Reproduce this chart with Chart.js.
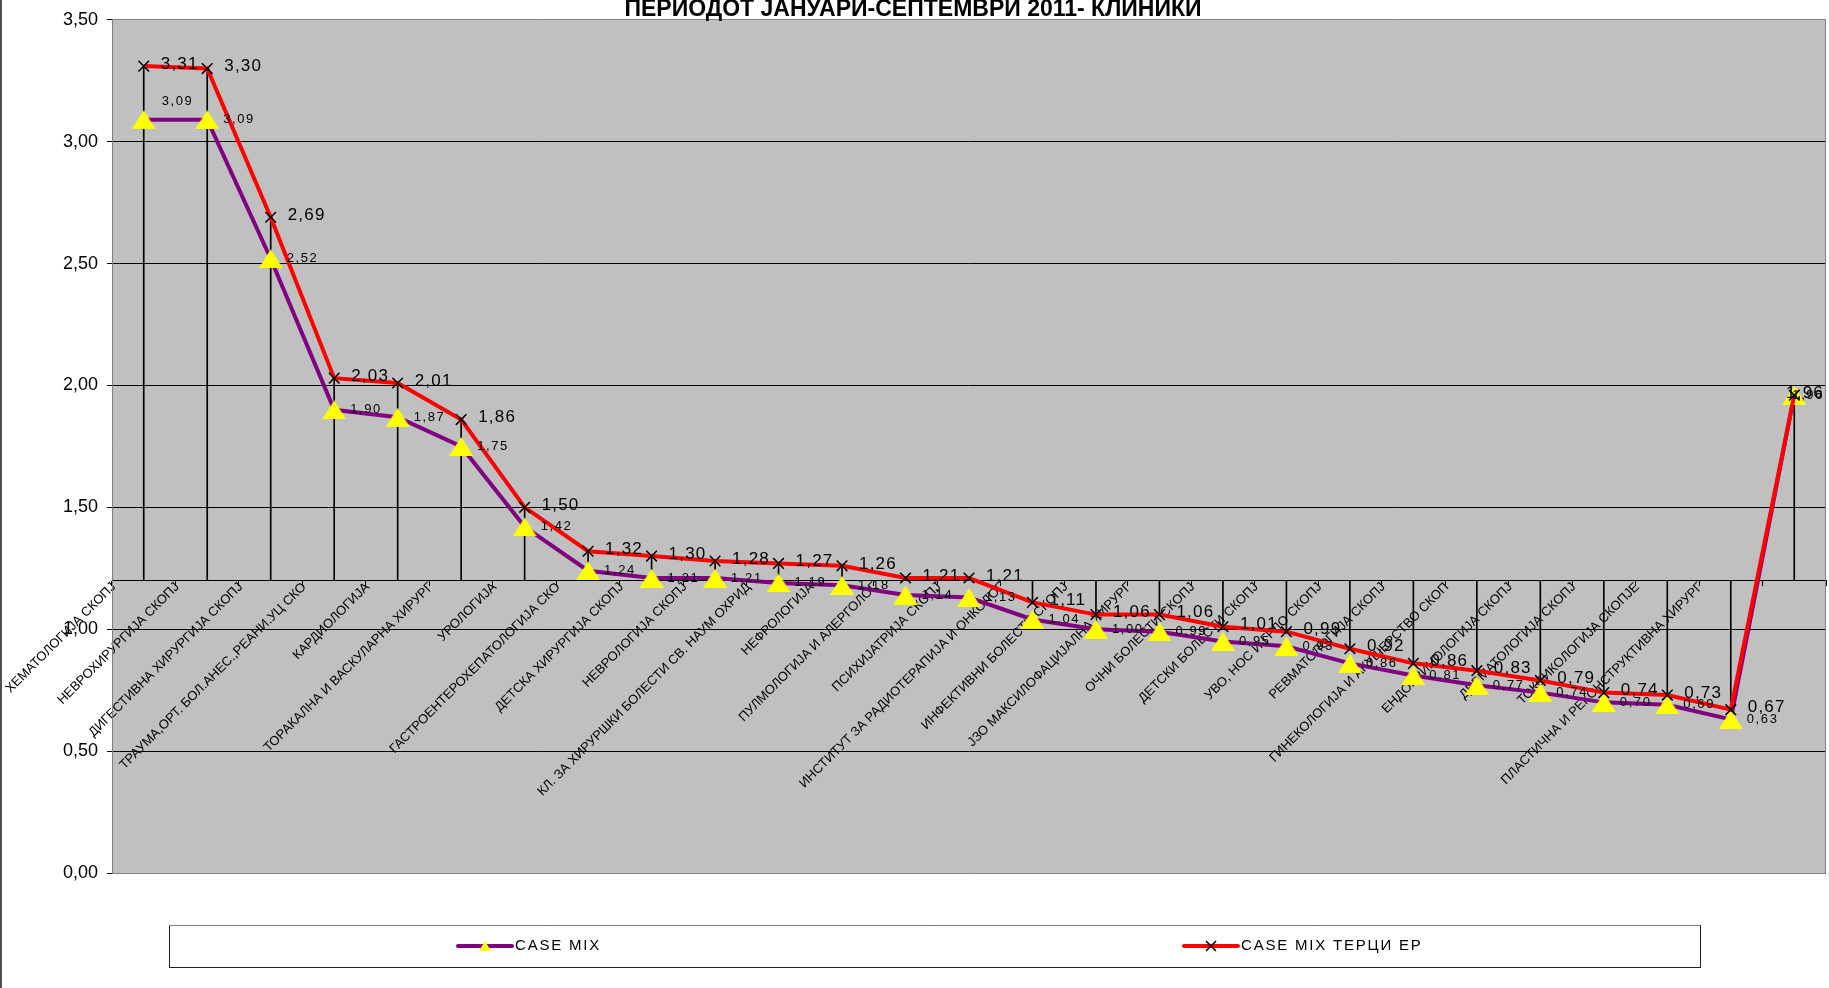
<!DOCTYPE html>
<html>
<head>
<meta charset="utf-8">
<title>Case mix - клиники</title>
<script src="https://cdn.jsdelivr.net/npm/chart.js@4.4.1/dist/chart.umd.min.js"></script>
<style>
  html, body { margin: 0; padding: 0; background: #fff; overflow: hidden; }
  #wrap { position: relative; width: 1829px; height: 988px; }
</style>
</head>
<body>
<div id="wrap"><canvas id="chart"></canvas></div>
<script>
var FONT = '"Liberation Sans", Arial, sans-serif';

var chartTitle = 'ПЕРИОДОТ ЈАНУАРИ-СЕПТЕМВРИ 2011- КЛИНИКИ';
var seriesNames = ['CASE MIX', 'CASE MIX ТЕРЦИ ЕР'];

var clinics = [
  'ХЕМАТОЛОГИЈА СКОПЈ',
  'НЕВРОХИРУРГИЈА СКОПЈ',
  'ДИГЕСТИВНА ХИРУРГИЈА СКОПЈ',
  'ТРАУМА,ОРТ. БОЛ.АНЕС.,РЕАНИ.УЦ СКО',
  'КАРДИОЛОГИЈА',
  'ТОРАКАЛНА И ВАСКУЛАРНА ХИРУРГ',
  'УРОЛОГИЈА',
  'ГАСТРОЕНТЕРОХЕПАТОЛОГИЈА СКО',
  'ДЕТСКА ХИРУРГИЈА СКОПЈ',
  'НЕВРОЛОГИЈА СКОПЈ',
  'КЛ. ЗА ХИРУРШКИ БОЛЕСТИ СВ. НАУМ ОХРИД',
  'НЕФРОЛОГИЈА',
  'ПУЛМОЛОГИЈА И АЛЕРГОЛОГ',
  'ПСИХИЈАТРИЈА СКОПЈ',
  'ИНСТИТУТ ЗА РАДИОТЕРАПИЈА И ОНКОЛОГ',
  'ИНФЕКТИВНИ БОЛЕСТИ СКОПЈ',
  'ЈЗО МАКСИЛОФАЦИЈАЛНА ХИРУРГ',
  'ОЧНИ БОЛЕСТИ СКОПЈ',
  'ДЕТСКИ БОЛЕСТИ СКОПЈ',
  'УВО, НОС И ГРЛО СКОПЈ',
  'РЕВМАТОЛОГИЈА СКОПЈ',
  'ГИНЕКОЛОГИЈА И АКУШЕРСТВО СКОП',
  'ЕНДОКРИНОЛОГИЈА СКОПЈ',
  'ДЕРМАТОЛОГИЈА СКОПЈ',
  'ТОКСИКОЛОГИЈА СКОПЈЕ',
  'ПЛАСТИЧНА И РЕКОНСТРУКТИВНА ХИРУРГ',
  ''
];

var caseMix = [3.09, 3.09, 2.52, 1.90, 1.87, 1.75, 1.42, 1.24, 1.21, 1.21, 1.19, 1.18, 1.14, 1.13,
               1.04, 1.00, 0.99, 0.95, 0.93, 0.86, 0.81, 0.77, 0.74, 0.70, 0.69, 0.63, 1.96];

var caseMixTerciEr = [3.31, 3.30, 2.69, 2.03, 2.01, 1.86, 1.50, 1.32, 1.30, 1.28, 1.27, 1.26, 1.21, 1.21,
                      1.11, 1.06, 1.06, 1.01, 0.99, 0.92, 0.86, 0.83, 0.79, 0.74, 0.73, 0.67, 1.96];

// value axis: 0,00 .. 3,50, category axis crosses at 1,20
var yMin = 0;
var yMax = 3.5;
var yStep = 0.5;
var axisCross = 1.2;

function fmt(v) {
  return Number(v).toFixed(2).replace('.', ',');
}

// drop lines: from the category axis to the higher of the two points
var dropLines = clinics.map(function(c, i) {
  return [axisCross, Math.max(caseMix[i], caseMixTerciEr[i])];
});

function triangleMarker(w, h, color) {
  var c = document.createElement('canvas');
  c.width = w;
  c.height = h;
  var g = c.getContext('2d');
  g.fillStyle = color;
  g.beginPath();
  g.moveTo(w / 2, 0);
  g.lineTo(w, h);
  g.lineTo(0, h);
  g.closePath();
  g.fill();
  return c;
}

var bigTriangle = triangleMarker(24, 19, '#FFFF00');

// plot background, outer left edge and right plot border
var frame = {
  id: 'frame',
  beforeDraw: function(chart) {
    var c = chart.ctx, a = chart.chartArea;
    c.save();
    c.fillStyle = '#C0C0C0';
    c.fillRect(a.left, a.top, a.right - a.left, a.bottom - a.top);
    c.fillStyle = '#505050';
    c.fillRect(0, 0, 2, chart.height);
    c.restore();
  },
  beforeDatasetsDraw: function(chart) {
    var c = chart.ctx, a = chart.chartArea;
    c.save();
    c.strokeStyle = '#808080';
    c.lineWidth = 1;
    c.beginPath();
    c.moveTo(Math.round(a.right) - 0.5, a.top);
    c.lineTo(Math.round(a.right) - 0.5, a.bottom);
    c.stroke();
    c.restore();
  }
};

// value labels next to the points
var labelStyle = {
  0: { font: '17px ' + FONT, spacing: '1.2px', dx: 17, dy: -2 },
  1: { font: '13px ' + FONT, spacing: '1.6px', dx: 16, dy: 0, liftFirst: true }
};

var valueLabels = {
  id: 'valueLabels',
  afterDatasetsDraw: function(chart) {
    var c = chart.ctx, a = chart.chartArea;
    c.save();
    c.fillStyle = '#000';
    c.textAlign = 'left';
    c.textBaseline = 'middle';
    chart.data.datasets.forEach(function(ds, di) {
      var st = labelStyle[di];
      if (!st) return;
      c.font = st.font;
      c.letterSpacing = st.spacing;
      chart.getDatasetMeta(di).data.forEach(function(pt, i) {
        var text = fmt(ds.data[i]);
        var w = c.measureText(text).width;
        var x = pt.x + st.dx;
        var y = pt.y + st.dy;
        if (st.liftFirst && i === 0) { x += 2; y -= 18; }
        x = Math.min(x, a.right - w - 2);
        c.fillText(text, x, y);
      });
    });
    c.restore();
  }
};

// boxed legend under the plot
var boxLegend = {
  id: 'boxLegend',
  afterDraw: function(chart) {
    var c = chart.ctx;
    var box = { left: 169, top: 925, width: 1531, height: 42 };
    var items = [
      { x: 458, name: seriesNames[0], color: '#800080', marker: 'triangle' },
      { x: 1184, name: seriesNames[1], color: '#FF0000', marker: 'cross' }
    ];
    var cy = box.top + box.height / 2;
    c.save();
    c.fillStyle = '#fff';
    c.fillRect(box.left, box.top, box.width, box.height);
    c.lineWidth = 1;
    c.strokeStyle = '#202020';
    c.strokeRect(box.left + 0.5, box.top + 0.5, box.width, box.height);
    c.strokeStyle = '#808080';
    c.beginPath();
    c.moveTo(box.left, box.top + 0.5);
    c.lineTo(box.left + box.width, box.top + 0.5);
    c.stroke();

    items.forEach(function(it) {
      c.strokeStyle = it.color;
      c.lineWidth = 4;
      c.lineCap = 'round';
      c.beginPath();
      c.moveTo(it.x, cy);
      c.lineTo(it.x + 54, cy);
      c.stroke();
      var mx = it.x + 27;
      if (it.marker === 'triangle') {
        c.fillStyle = '#FFFF00';
        c.beginPath();
        c.moveTo(mx, cy - 5);
        c.lineTo(mx + 6, cy + 5);
        c.lineTo(mx - 6, cy + 5);
        c.closePath();
        c.fill();
      } else {
        c.strokeStyle = '#000';
        c.lineWidth = 1.5;
        c.lineCap = 'butt';
        c.beginPath();
        c.moveTo(mx - 5, cy - 5); c.lineTo(mx + 5, cy + 5);
        c.moveTo(mx + 5, cy - 5); c.lineTo(mx - 5, cy + 5);
        c.stroke();
      }
      c.fillStyle = '#000';
      c.font = '15px ' + FONT;
      c.letterSpacing = '1.8px';
      c.textAlign = 'left';
      c.textBaseline = 'middle';
      c.fillText(it.name, it.x + 57, cy);
    });
    c.restore();
  }
};

var chart = new Chart(document.getElementById('chart'), {
  type: 'line',
  data: {
    labels: clinics,
    datasets: [
      {
        label: seriesNames[1],
        data: caseMixTerciEr,
        order: 1,
        borderColor: '#FF0000',
        borderWidth: 4,
        tension: 0,
        pointStyle: 'crossRot',
        pointRadius: 7.5,
        pointBorderColor: '#000',
        pointBackgroundColor: '#000',
        pointBorderWidth: 1.5
      },
      {
        label: seriesNames[0],
        data: caseMix,
        order: 2,
        borderColor: '#800080',
        borderWidth: 4,
        tension: 0,
        pointStyle: bigTriangle,
        pointRadius: 10
      },
      {
        type: 'bar',
        label: 'drop lines',
        data: dropLines,
        order: 3,
        backgroundColor: '#000',
        borderWidth: 0,
        barThickness: 1
      }
    ]
  },
  options: {
    responsive: true,
    maintainAspectRatio: false,
    animation: false,
    events: [],
    layout: { autoPadding: false, padding: { left: 0, right: 3, top: 0, bottom: 115 } },
    scales: {
      x: {
        type: 'category',
        offset: true,
        position: { y: axisCross },
        afterFit: function(scale) { scale.paddingLeft = 0; scale.paddingRight = 0; },
        grid: { drawOnChartArea: false, offset: true, tickLength: 5, tickColor: '#000' },
        border: { color: '#000', width: 1 },
        ticks: {
          autoSkip: false,
          minRotation: 45,
          maxRotation: 45,
          labelOffset: -30,
          padding: -6,
          color: '#000',
          font: { family: FONT, size: 13 }
        }
      },
      y: {
        min: yMin,
        max: yMax,
        afterFit: function(scale) { scale.width = 112; },
        ticks: {
          stepSize: yStep,
          padding: 9,
          color: '#000',
          font: { family: FONT, size: 18 },
          callback: function(v) { return fmt(v); }
        },
        grid: {
          color: function(ctx) {
            var v = ctx.tick ? ctx.tick.value : 0;
            return (v === yMin || v === yMax) ? '#808080' : '#000';
          },
          tickColor: '#000',
          tickLength: 5,
          lineWidth: 1
        },
        border: { color: '#808080', width: 1 }
      }
    },
    plugins: {
      legend: { display: false },
      tooltip: { enabled: false },
      title: {
        display: true,
        text: chartTitle,
        color: '#000',
        font: { family: FONT, size: 23, weight: 'bold', lineHeight: 1 },
        padding: { top: -6, bottom: -1 }
      }
    }
  },
  plugins: [frame, valueLabels, boxLegend]
});
</script>
</body>
</html>
